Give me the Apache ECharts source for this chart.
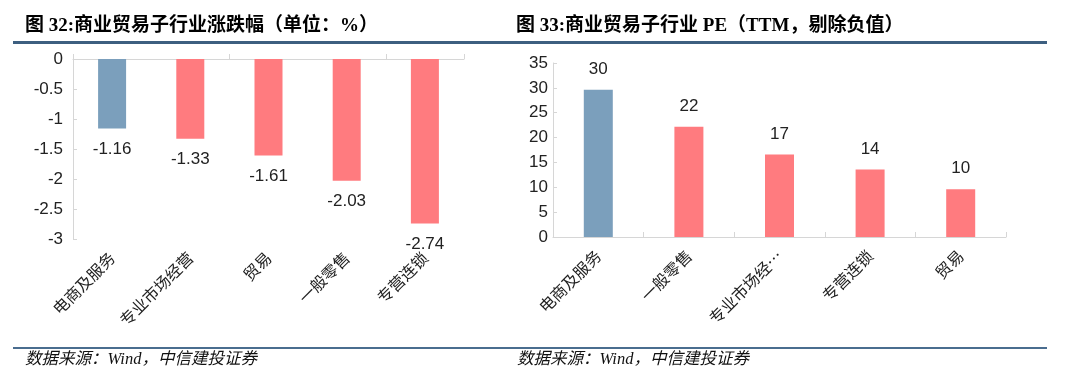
<!DOCTYPE html>
<html>
<head>
<meta charset="utf-8">
<script src="https://cdn.jsdelivr.net/npm/echarts@6/dist/echarts.min.js"></script>
<style>
html,body{margin:0;padding:0;background:#fff;}
#c{width:1080px;height:383px;}
</style>
</head>
<body>
<div id="c"></div>
<script>
// Left chart: 涨跌幅 (%)
const leftCategories = ['电商及服务', '专业市场经营', '贸易', '一般零售', '专营连锁'];
const leftValues = [-1.16, -1.33, -1.61, -2.03, -2.74];
// Right chart: PE (TTM)
const rightCategories = ['电商及服务', '一般零售', '专业市场经营', '专营连锁', '贸易'];
const rightValues = [29.6, 22.2, 16.6, 13.6, 9.6];

const leftTitle = '图 32:商业贸易子行业涨跌幅（单位：%）';
const rightTitle = '图 33:商业贸易子行业 PE（TTM，剔除负值）';
const sourceText = '数据来源：Wind，中信建投证券';

const BLUE = '#7b9fbc';
const RED = '#ff7b7f';
const AXIS = '#d6d6d6';
const TXT = '#222';
const NUMFONT = 'Arial, "Liberation Sans", sans-serif';
const CJK = '"Liberation Serif", "Noto Sans CJK SC", serif';

function colored(vals) {
  return vals.map((v, i) => ({ value: v, itemStyle: { color: i === 0 ? BLUE : RED } }));
}

const chart = echarts.init(document.getElementById('c'), null, { renderer: 'canvas' });

const catLabel = {
  rotate: 45,
  fontSize: 16,
  color: TXT,
  fontFamily: '"Noto Sans CJK SC", sans-serif',
  margin: 16,
  interval: 0
};

chart.setOption({
  animation: false,
  backgroundColor: '#fff',
  grid: [
    { left: 73, top: 59, width: 391, height: 180 },
    { left: 553, top: 63, width: 453, height: 174 }
  ],
  xAxis: [
    {
      gridIndex: 0, type: 'category', data: leftCategories, position: 'top',
      axisLine: { show: true, onZero: false, lineStyle: { color: AXIS, width: 1 } },
      axisTick: { show: true, inside: false, length: 5, lineStyle: { color: AXIS } },
      axisLabel: { show: false },
      splitLine: { show: false }
    },
    {
      gridIndex: 0, type: 'category', data: leftCategories, position: 'bottom',
      axisLine: { show: false, onZero: false },
      axisTick: { show: false },
      axisLabel: catLabel
    },
    {
      gridIndex: 1, type: 'category', data: rightCategories, position: 'bottom',
      axisLine: { show: true, lineStyle: { color: AXIS, width: 1 } },
      axisTick: { show: true, inside: true, length: 5, lineStyle: { color: AXIS } },
      axisLabel: Object.assign({}, catLabel, {
        formatter: s => s.length > 5 ? s.slice(0, 5) + '…' : s
      })
    }
  ],
  yAxis: [
    {
      gridIndex: 0, type: 'value', min: -3, max: 0, interval: 0.5,
      axisLine: { show: true, lineStyle: { color: AXIS } },
      axisTick: { show: true, inside: true, length: 4, lineStyle: { color: AXIS } },
      splitLine: { show: false },
      axisLabel: { fontSize: 17, color: TXT, fontFamily: NUMFONT, margin: 10 }
    },
    {
      gridIndex: 1, type: 'value', min: 0, max: 35, interval: 5,
      axisLine: { show: true, lineStyle: { color: AXIS } },
      axisTick: { show: true, inside: true, length: 4, lineStyle: { color: AXIS } },
      splitLine: { show: false },
      axisLabel: { fontSize: 17, color: TXT, fontFamily: NUMFONT, margin: 5 }
    }
  ],
  series: [
    {
      type: 'bar', xAxisIndex: 0, yAxisIndex: 0, barWidth: 28,
      data: colored(leftValues),
      label: {
        show: true, position: 'bottom', distance: 12,
        fontSize: 17, color: TXT, fontFamily: NUMFONT,
        formatter: p => p.value.toFixed(2)
      }
    },
    {
      type: 'bar', xAxisIndex: 2, yAxisIndex: 1, barWidth: 29,
      data: colored(rightValues),
      label: {
        show: true, position: 'top', distance: 12,
        fontSize: 17, color: TXT, fontFamily: NUMFONT,
        formatter: p => String(Math.round(p.value))
      }
    }
  ],
  graphic: [
    { type: 'text', left: 25, top: 17, style: { text: leftTitle, font: 'bold 19px ' + CJK, fill: '#000' } },
    { type: 'text', left: 516, top: 17, style: { text: rightTitle, font: 'bold 19px ' + CJK, fill: '#000' } },
    { type: 'rect', shape: { x: 13, y: 41, width: 1034, height: 3 }, style: { fill: '#3d5f80' } },
    { type: 'rect', shape: { x: 13, y: 347, width: 1034, height: 2 }, style: { fill: '#4a6d8f' } },
    { type: 'text', left: 25, top: 351, style: { text: sourceText, font: 'italic 16.5px ' + CJK, fill: '#111' } },
    { type: 'text', left: 517, top: 351, style: { text: sourceText, font: 'italic 16.5px ' + CJK, fill: '#111' } }
  ]
});
</script>
</body>
</html>
